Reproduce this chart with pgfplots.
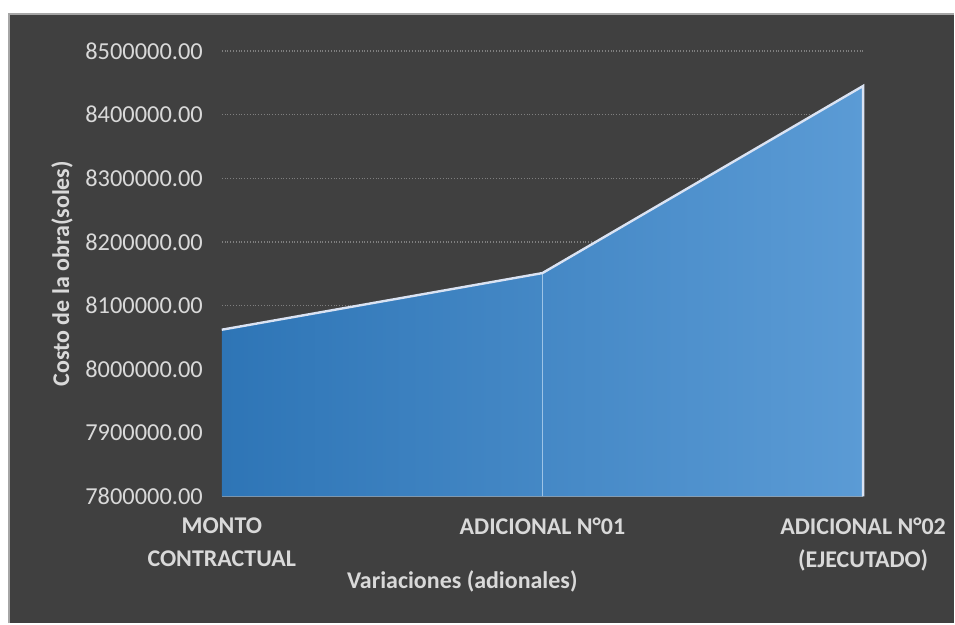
\documentclass[border=0pt]{standalone}
\usepackage{fontspec}
\setmainfont{Carlito}
\usepackage{pgfplots}
\pgfplotsset{compat=1.18}

\definecolor{bg}{HTML}{404040}
\definecolor{frame}{HTML}{A6A6A6}
\definecolor{txt}{HTML}{D9D9D9}
\definecolor{gridc}{HTML}{7F7F7F}
\definecolor{axisc}{HTML}{A6A6A6}
\definecolor{blueL}{HTML}{2E75B6}
\definecolor{blueR}{HTML}{5B9BD5}
\definecolor{edge}{HTML}{DAE3F3}
\definecolor{drop}{HTML}{9DC3E6}

\begin{document}
\begin{tikzpicture}
% page and chart background (1px = 0.5pt)
\fill[white] (-111pt,-63.5pt) rectangle (366.5pt,248.5pt);
\fill[bg] (-106.5pt,-63.5pt) rectangle (366.5pt,241.5pt);
\draw[frame, line width=1pt] (-106.5pt,-63.5pt) -- (-106.5pt,241.5pt) -- (366.5pt,241.5pt);
\useasboundingbox (-111pt,-63.5pt) rectangle (366.5pt,248.5pt);

\begin{axis}[
    at={(0pt,0pt)}, anchor=south west,
    scale only axis,
    width=321pt, height=223pt,
    xmin=0, xmax=2,
    ymin=7800000, ymax=8500000,
    xtick={0,1,2},
    xticklabels={{MONTO\\CONTRACTUAL},{ADICIONAL N°01},{ADICIONAL N°02\\(EJECUTADO)}},
    ytick={7800000,7900000,8000000,8100000,8200000,8300000,8400000,8500000},
    scaled y ticks=false,
    yticklabel style={/pgf/number format/fixed, /pgf/number format/fixed zerofill,
        /pgf/number format/precision=2, /pgf/number format/1000 sep={},
        /pgf/number format/assume math mode=true},
    yticklabel style={font=\fontsize{12.2}{14}\selectfont, text=txt, xshift=-6pt},
    xticklabel style={font=\fontsize{12}{16.5}\selectfont\bfseries, text=txt, align=center, yshift=-7pt},
    major tick length=0pt,
    axis x line*=bottom, axis y line*=left,
    x axis line style={draw=axisc, line width=1pt, -},
    y axis line style={draw=none},
    ymajorgrids,
    grid style={densely dotted, gridc, line width=0.7pt},
    xlabel={Variaciones (adionales)},
    ylabel={Costo de la obra(soles)},
    label style={font=\fontsize{12}{14}\selectfont\bfseries, text=txt},
    xlabel style={at={(axis description cs:0.375,-0.19)}, anchor=center},
    ylabel style={at={(axis description cs:-0.249,0.5)}, anchor=center},
    clip=false,
]
% area
\addplot[draw=none, left color=blueL, right color=blueR] coordinates {
    (0,7800000) (0,8062000) (1,8151000) (2,8445000) (2,7800000)
} -- cycle;
% drop line at second category
\addplot[drop, line width=0.8pt] coordinates {(1,7800000) (1,8151000)};
% outline
\addplot[edge, line width=1.2pt] coordinates {
    (0,8062000) (1,8151000) (2,8445000) (2,7800000)
};
\end{axis}
\end{tikzpicture}
\end{document}
